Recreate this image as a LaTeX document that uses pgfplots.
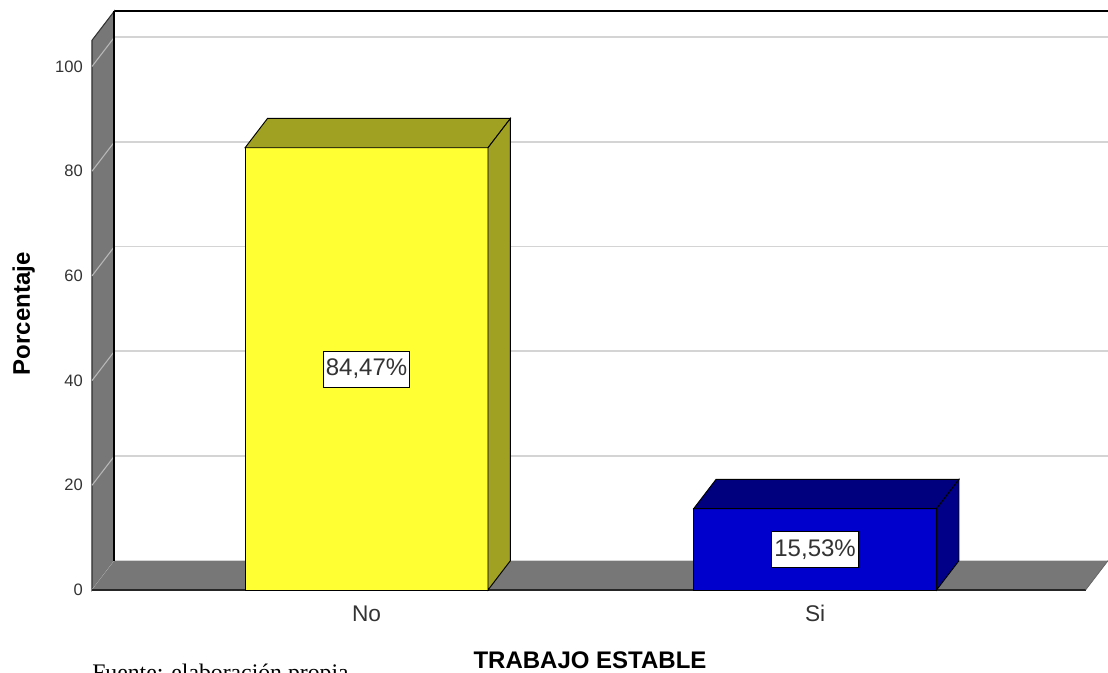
\documentclass[border=0pt]{standalone}
\usepackage{fontspec}
\setmainfont{Liberation Sans}
\newfontfamily\seriffont{Liberation Serif}
\usepackage{pgfplots}
\pgfplotsset{compat=1.18}
\definecolor{wallgray}{HTML}{777777}
\definecolor{gridgray}{HTML}{D4D4D4}
\definecolor{wallgrid}{HTML}{B8B8B8}
\definecolor{barY}{HTML}{FFFF33}
\definecolor{barYdark}{HTML}{A0A022}
\definecolor{barB}{HTML}{0000CC}
\definecolor{barBtop}{HTML}{00007F}
\definecolor{barBside}{HTML}{000088}
\definecolor{ticktext}{HTML}{333333}
\begin{document}
\begin{tikzpicture}
\useasboundingbox (-69pt,-62.25pt) rectangle (762pt,442.5pt);
\begin{axis}[
  at={(0pt,0pt)}, anchor=south west,
  scale only axis, width=762pt, height=434.25pt,
  xmin=-0.612, xmax=1.653, ymin=0, ymax=110.6,
  clip=false,
  axis line style={draw=none},
  tick style={draw=none},
  xtick={0,1}, xticklabels={No,Si},
  ytick={0,20,40,60,80,100},
  /pgf/number format/assume math mode=true,
  yticklabel style={font=\fontsize{12.4}{14}\selectfont, text=ticktext, anchor=east, inner sep=0pt, xshift=-6.75pt},
  xticklabel style={font=\fontsize{17}{19}\selectfont, text=ticktext, anchor=base, yshift=-24pt},
  unbounded coords=jump,
]
% back wall gridlines
\addplot[gridgray, line width=1.3pt] coordinates {
 (-0.562,25.6) (1.653,25.6) (nan,nan)
 (-0.562,45.6) (1.653,45.6) (nan,nan)
 (-0.562,65.6) (1.653,65.6) (nan,nan)
 (-0.562,85.6) (1.653,85.6) (nan,nan)
 (-0.562,105.6) (1.653,105.6)
};
% back wall top border
\addplot[black, line width=1.5pt] coordinates {(-0.562,110.6) (1.653,110.6)};
% left wall
\addplot[fill=wallgray, draw=black!80, line width=0.8pt] coordinates {(-0.612,0) (-0.612,105) (-0.562,110.6) (-0.562,5.6)} --cycle;
% left wall gridlines
\addplot[wallgrid, line width=0.8pt] coordinates {
 (-0.612,0) (-0.562,5.6) (nan,nan)
 (-0.612,20) (-0.562,25.6) (nan,nan)
 (-0.612,40) (-0.562,45.6) (nan,nan)
 (-0.612,60) (-0.562,65.6) (nan,nan)
 (-0.612,80) (-0.562,85.6) (nan,nan)
 (-0.612,100) (-0.562,105.6)
};
% floor
\addplot[fill=wallgray, draw=none] coordinates {(-0.612,0) (-0.562,5.6) (1.653,5.6) (1.603,0)} --cycle;
\addplot[gridgray, line width=1pt] coordinates {(-0.562,5.6) (1.653,5.6)};
\addplot[black!85, line width=1.5pt] coordinates {(-0.612,0) (1.603,0)};
\addplot[black!60, line width=0.6pt] coordinates {(1.603,0) (1.653,5.6)};
% back wall left border
\addplot[black, line width=1.5pt] coordinates {(-0.562,5.6) (-0.562,110.6)};
% Bar No
\addplot[ybar, bar width=0.5417, fill=barY, draw=black, line width=0.7pt] coordinates {(0,84.47)};
\addplot[fill=barYdark, draw=black, line width=0.7pt] coordinates {(-0.2708,84.47) (-0.2208,90.07) (0.3208,90.07) (0.2708,84.47)} --cycle;
\addplot[fill=barYdark, draw=black, line width=0.7pt] coordinates {(0.2708,0) (0.2708,84.47) (0.3208,90.07) (0.3208,5.6)} --cycle;
% Bar Si
\addplot[ybar, bar width=0.5417, fill=barB, draw=black, line width=0.7pt] coordinates {(1,15.53)};
\addplot[fill=barBtop, draw=black, line width=0.7pt] coordinates {(0.7292,15.53) (0.7792,21.13) (1.3208,21.13) (1.2708,15.53)} --cycle;
\addplot[fill=barBside, draw=black, line width=0.7pt] coordinates {(1.2708,0) (1.2708,15.53) (1.3208,21.13) (1.3208,5.6)} --cycle;
% value labels
\node[draw=black, line width=0.6pt, fill=white, font=\fontsize{18}{20}\selectfont, text=ticktext, inner xsep=2pt, inner ysep=5.5pt, text height=13pt, text depth=3pt] at (axis cs:0,42.2) {84,47\%};
\node[draw=black, line width=0.6pt, fill=white, font=\fontsize{18}{20}\selectfont, text=ticktext, inner xsep=2pt, inner ysep=5.5pt, text height=13pt, text depth=3pt] at (axis cs:1,7.7) {15,53\%};
\end{axis}
\node[font=\bfseries\fontsize{18}{20}\selectfont, anchor=base] at (373.5pt,-59pt) {TRABAJO ESTABLE};
\node[rotate=90, font=\bfseries\fontsize{18}{20}\selectfont, anchor=base] at (-46.5pt,207pt) {Porcentaje};
\node[font=\seriffont\fontsize{17.8}{20}\selectfont, anchor=base west, inner sep=0pt] at (0pt,-68.25pt) {Fuente: elaboración propia};
\end{tikzpicture}
\end{document}
